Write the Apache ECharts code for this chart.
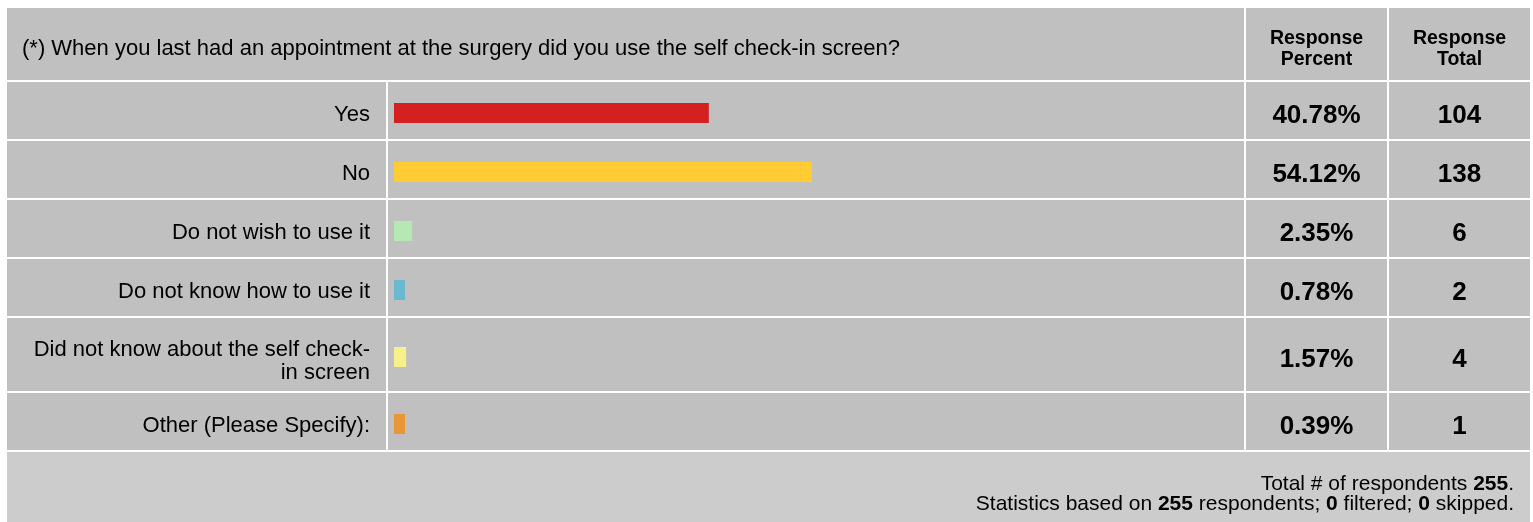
<!DOCTYPE html>
<html><head><meta charset="utf-8">
<script src="https://cdn.jsdelivr.net/npm/echarts@6/dist/echarts.min.js"></script>
<style>html,body{margin:0;padding:0;background:#fff}#c{width:1533px;height:522px}</style>
</head><body><div id="c"></div>
<script>
// ---- data ----
const question = '(*) When you last had an appointment at the surgery did you use the self check-in screen?';
const categories = ['Yes', 'No', 'Do not wish to use it', 'Do not know how to use it', 'Did not know about the self check-\nin screen', 'Other (Please Specify):'];
const percents = [40.78, 54.12, 2.35, 0.78, 1.57, 0.39];
const totals = [104, 138, 6, 2, 4, 1];
const columnHeaders = ['Response\nPercent', 'Response\nTotal'];
const respondents = 255;
const filteredCount = 0;
const skippedCount = 0;

// ---- style / layout ----
const barColors = ['#d42020', '#ffcc33', '#b4e9b4', '#6cb8d1', '#f6f18c', '#e99637'];
const FONT = '"Liberation Sans", Arial, sans-serif';
const CELL = '#c0c0c0', FOOT = '#cccccc';
const rows = [[82, 139], [141, 198], [200, 257], [259, 316], [318, 391], [393, 450]];
const X0 = 7, XL = 386, XB = 388, XP = 1246, XT = 1389, XR = 1530;

const chart = echarts.init(document.getElementById('c'), null, {renderer: 'canvas'});
const graphics = [];
function rect(x1, y1, x2, y2, fill) {
  graphics.push({type: 'rect', z: -10, silent: true, shape: {x: x1, y: y1, width: x2 - x1, height: y2 - y1}, style: {fill: fill}});
}
function text(x, y, str, opts) {
  graphics.push({type: 'text', z: 100, silent: true, x: x, y: y,
    style: Object.assign({text: str, font: '22px ' + FONT, fill: '#000', align: 'center', verticalAlign: 'middle'}, opts || {})});
}
// header
rect(X0, 8, XP - 2, 80, CELL);
rect(XP, 8, XT - 2, 80, CELL);
rect(XT, 8, XR, 80, CELL);
text(22, 49, question, {align: 'left', font: '22px ' + FONT});
text((XP + XT - 2) / 2, 49, columnHeaders[0], {font: 'bold 19.5px ' + FONT, lineHeight: 21});
text((XT + XR) / 2, 49, columnHeaders[1], {font: 'bold 19.5px ' + FONT, lineHeight: 21});

const grids = [], xAxes = [], yAxes = [], series = [];
rows.forEach(function (r, i) {
  rect(X0, r[0], XL, r[1], CELL);
  rect(XB, r[0], XP - 2, r[1], CELL);
  rect(XP, r[0], XT - 2, r[1], CELL);
  rect(XT, r[0], XR, r[1], CELL);
  const c = (r[0] + r[1]) / 2;
  const multi = categories[i].indexOf('\n') >= 0;
  text((XP + XT - 2) / 2, c + 5.5, percents[i].toFixed(2) + '%', {font: 'bold 26px ' + FONT});
  text((XT + XR) / 2, c + 5.5, String(totals[i]), {font: 'bold 26px ' + FONT});
  grids.push({left: 394, width: 772, top: c + 2.5 - 10, height: 20, containLabel: false});
  xAxes.push({type: 'value', gridIndex: i, min: 0, max: 100, show: false});
  yAxes.push({type: 'category', gridIndex: i, data: [categories[i]],
    axisLine: {show: false}, axisTick: {show: false}, splitLine: {show: false},
    axisLabel: {margin: 24, color: '#000', align: 'right',
      formatter: function (v) { return v.split('\n').map(function (s) { return '{a|' + s + '}'; }).join('\n'); },
      rich: {a: {fontSize: 22, fontFamily: FONT, color: '#000', lineHeight: 23, padding: [multi ? 8 : 3, 0, 0, 0]}}}});
  series.push({type: 'bar', xAxisIndex: i, yAxisIndex: i, data: [percents[i]], barWidth: 20, barMinHeight: 11,
    itemStyle: {color: barColors[i]}, animation: false, silent: true});
});
// footer
rect(X0, 452, XR, 522, FOOT);
const rich = {n: {fontSize: 21, fontFamily: FONT, color: '#000'}, b: {fontSize: 21, fontFamily: FONT, fontWeight: 'bold', color: '#000'}};
text(1514, 484, '{n|Total # of respondents }{b|' + respondents + '}{n|.}', {align: 'right', rich: rich});
text(1514, 504, '{n|Statistics based on }{b|' + respondents + '}{n| respondents; }{b|' + filteredCount + '}{n| filtered; }{b|' + skippedCount + '}{n| skipped.}', {align: 'right', rich: rich});

chart.setOption({
  animation: false,
  backgroundColor: '#ffffff',
  grid: grids, xAxis: xAxes, yAxis: yAxes, series: series,
  graphic: {elements: graphics}
});
</script>
</body></html>
